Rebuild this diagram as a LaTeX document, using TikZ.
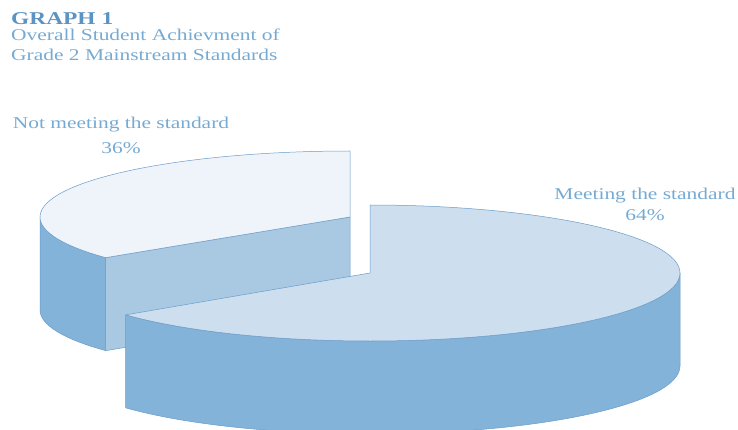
\documentclass[tikz,border=0pt]{standalone}
\usepackage{fontspec}
\setmainfont{Liberation Serif}
\newfontfamily\chartfont[FakeStretch=1.3]{Liberation Serif}
\usepackage{tikz}
\usetikzlibrary{positioning}
\definecolor{toplight}{HTML}{EEF4FA}
\definecolor{topmid}{HTML}{CDDEEE}
\definecolor{cutface}{HTML}{A9C9E3}
\definecolor{rimface}{HTML}{84B3D9}
\definecolor{rimline}{HTML}{6A9CC8}
\definecolor{labelblue}{HTML}{76AAD2}
\definecolor{titleblue}{HTML}{5B93C2}

\begin{document}
\begin{tikzpicture}[x=1pt,y=1pt]
                \tikzstyle{every node}+=[inner sep=0pt]
                \tikzstyle{face}=[draw=rimline, line width=0.5pt, line join=round]
                \tikzstyle{lbl}=[font=\chartfont\fontsize{16.5}{18}\selectfont, text=labelblue, anchor=base]
                \useasboundingbox (0,0) rectangle (738,-430);
                \clip (0,0) rectangle (738,-430);
                % small slice, 36%, pulled out to the back
                \filldraw [fill=rimface, face] (40,-217) arc [start angle=180, end angle=218, x radius=310, y radius=66]
                    -- ++(0,-93) arc [start angle=218, end angle=180, x radius=310, y radius=66] -- cycle;
                \filldraw [fill=cutface, face] (350,-217) -- ++(218:310 and 66) -- ++(0,-93) -- (350,-310) -- cycle;
                \filldraw [fill=toplight, face] (350,-217) -- (350,-151)
                    arc [start angle=90, end angle=218, x radius=310, y radius=66] -- cycle;
                % big slice, 64%
                \filldraw [fill=rimface, face] (370,-273) ++(218:310 and 68)
                    arc [start angle=218, end angle=360, x radius=310, y radius=68]
                    -- ++(0,-93) arc [start angle=360, end angle=218, x radius=310, y radius=68] -- cycle;
                \filldraw [fill=topmid, face] (370,-273) -- (370,-205)
                    arc [start angle=90, end angle=-142, x radius=310, y radius=68] -- cycle;
                % texts
                \node [lbl, anchor=base west, text=titleblue, font=\chartfont\bfseries\fontsize{18}{20}\selectfont] (title) at (11,-25) {GRAPH 1};
                \node [lbl, anchor=base west] (subtitle) at (11,-41) {Overall Student Achievment of};
                \node [lbl, anchor=base west] (subtitletwo) at (11,-61) {Grade 2 Mainstream Standards};
                \node [lbl] (notmet) at (121,-129) {Not meeting the standard};
                \node [lbl] (notmetpct) at (121,-154) {36\%};
                \node [lbl] (met) at (645,-200) {Meeting the standard};
                \node [lbl] (metpct) at (645,-221) {64\%};
\end{tikzpicture}
\end{document}
